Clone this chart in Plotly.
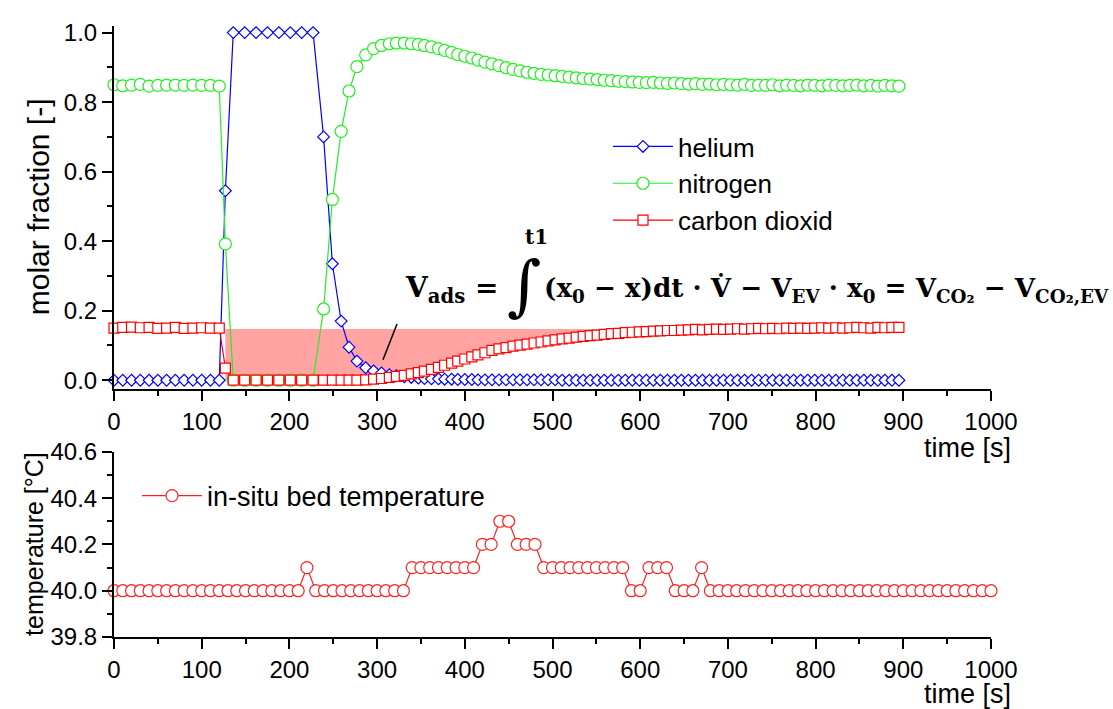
import plotly.graph_objects as go

# ---------------- data ----------------
time_gas = [0, 10, 20, 30, 40, 50, 60, 70, 80, 90, 100, 110, 120,
            127,
            136, 149, 162, 175, 188, 201, 214, 227,
            239, 249, 259, 268, 277, 287, 296, 305, 314, 322, 331, 339, 347, 354, 362, 370,
            377, 385, 392, 400, 408, 415, 423,
            431, 439, 447, 455, 463, 471, 479, 487, 495, 503,
            511, 519, 527, 535, 543, 551, 559, 567, 575, 583,
            591, 599, 607, 615, 623, 631, 639, 647, 655, 663,
            671, 679, 687, 695, 703, 711, 719, 727, 735, 743,
            751, 759, 767, 775, 783, 791, 799, 807, 815, 823,
            831, 839, 847, 855, 863, 871, 879, 887, 895]

helium = [0, 0, 0, 0, 0, 0, 0, 0, 0, 0, 0, 0, 0,
          0.545,
          1, 1, 1, 1, 1, 1, 1, 1,
          0.700, 0.335, 0.170, 0.095, 0.055, 0.036, 0.027, 0.021, 0.016, 0.013, 0.010, 0.008,
          0.006, 0.005, 0.004, 0.004, 0.003, 0.003, 0.002, 0.002, 0.002, 0.001, 0.001,
          0.001, 0.001, 0.001, 0.001, 0.001, 0.001, 0.001, 0.001, 0.001, 0.001,
          0, 0, 0, 0, 0, 0, 0, 0, 0, 0,
          0, 0, 0, 0, 0, 0, 0, 0, 0, 0,
          0, 0, 0, 0, 0, 0, 0, 0, 0, 0,
          0, 0, 0, 0, 0, 0, 0, 0, 0, 0,
          0, 0, 0, 0, 0, 0, 0, 0, 0]

nitrogen = [0.850, 0.847, 0.849, 0.851, 0.846, 0.848, 0.849, 0.849, 0.848, 0.849, 0.848, 0.848, 0.846,
            0.392,
            0, 0, 0, 0, 0, 0, 0, 0,
            0.205, 0.520, 0.716, 0.832, 0.902, 0.936, 0.954, 0.963, 0.968, 0.970, 0.970, 0.968,
            0.966, 0.963, 0.959, 0.954, 0.949, 0.943, 0.937, 0.932, 0.927, 0.921, 0.915,
            0.910, 0.905, 0.899, 0.894, 0.890, 0.886, 0.883, 0.880, 0.878, 0.876,
            0.874, 0.872, 0.870, 0.868, 0.866, 0.865, 0.863, 0.862, 0.860, 0.859,
            0.858, 0.857, 0.856, 0.857, 0.855, 0.854, 0.855, 0.853, 0.852, 0.853,
            0.851, 0.852, 0.850, 0.851, 0.850, 0.849, 0.851, 0.848, 0.849, 0.848,
            0.850, 0.847, 0.849, 0.848, 0.847, 0.849, 0.848, 0.847, 0.849, 0.848,
            0.847, 0.848, 0.849, 0.847, 0.848, 0.846, 0.848, 0.847, 0.846]

carbon_dioxide = [0.150, 0.152, 0.153, 0.151, 0.152, 0.149, 0.150, 0.152, 0.149, 0.150, 0.151, 0.150, 0.150,
                  0.035,
                  0, 0, 0, 0, 0, 0, 0, 0,
                  0, 0, 0, 0, 0, 0.001, 0.003, 0.005, 0.008, 0.011, 0.014, 0.018,
                  0.022, 0.026, 0.031, 0.037, 0.043, 0.049, 0.055, 0.061, 0.067, 0.073, 0.079,
                  0.086, 0.090, 0.094, 0.098, 0.101, 0.104, 0.107, 0.110, 0.113, 0.116,
                  0.119, 0.121, 0.124, 0.126, 0.128, 0.130, 0.132, 0.134, 0.135, 0.137,
                  0.138, 0.139, 0.140, 0.141, 0.142, 0.143, 0.143, 0.144, 0.145, 0.146,
                  0.145, 0.146, 0.147, 0.146, 0.147, 0.148, 0.147, 0.148, 0.149, 0.148,
                  0.149, 0.148, 0.150, 0.149, 0.150, 0.149, 0.150, 0.151, 0.150, 0.151,
                  0.150, 0.151, 0.152, 0.151, 0.150, 0.152, 0.151, 0.152, 0.152]

time_temp = [0, 10, 20, 30, 40, 50, 60, 70, 80, 90, 100, 110, 120, 130, 140, 150, 160, 170, 180, 190,
             200, 210, 220, 230, 240, 250, 260, 270, 280, 290, 300, 310, 320, 330, 340, 350, 360, 370,
             380, 390, 400, 410, 420, 430, 440, 450, 460, 470, 480, 490, 500, 510, 520, 530, 540, 550,
             560, 570, 580, 590, 600, 610, 620, 630, 640, 650, 660, 670, 680, 690, 700, 710, 720, 730,
             740, 750, 760, 770, 780, 790, 800, 810, 820, 830, 840, 850, 860, 870, 880, 890, 900, 910,
             920, 930, 940, 950, 960, 970, 980, 990, 1000, 1010]

bed_temperature = [40.0, 40.0, 40.0, 40.0, 40.0, 40.0, 40.0, 40.0, 40.0, 40.0, 40.0, 40.0, 40.0, 40.0,
                   40.0, 40.0, 40.0, 40.0, 40.0, 40.0, 40.0, 40.0,
                   40.1,
                   40.0, 40.0, 40.0, 40.0, 40.0, 40.0, 40.0, 40.0, 40.0, 40.0, 40.0,
                   40.1, 40.1, 40.1, 40.1, 40.1, 40.1, 40.1, 40.1,
                   40.2, 40.2,
                   40.3, 40.3,
                   40.2, 40.2, 40.2,
                   40.1, 40.1, 40.1, 40.1, 40.1, 40.1, 40.1, 40.1, 40.1, 40.1,
                   40.0, 40.0,
                   40.1, 40.1, 40.1,
                   40.0, 40.0, 40.0,
                   40.1,
                   40.0, 40.0, 40.0, 40.0, 40.0, 40.0, 40.0, 40.0, 40.0, 40.0, 40.0, 40.0, 40.0, 40.0,
                   40.0, 40.0, 40.0, 40.0, 40.0, 40.0, 40.0, 40.0, 40.0, 40.0, 40.0, 40.0, 40.0, 40.0,
                   40.0, 40.0, 40.0, 40.0, 40.0, 40.0]

fill_level = 0.147          # upper edge of the shaded adsorption area
fill_start_index = 13       # CO2 break-through drop

x_ticks = [0, 100, 200, 300, 400, 500, 600, 700, 800, 900, 1000]

# ---------------- figure ----------------
W, H = 1113, 709
ML, MR, MT, MB = 114, 122, 20, 72
PW, PH = W - ML - MR, H - MT - MB


def px_x(px):
    return (px - ML) / PW


def px_y(py):
    return (H - MB - py) / PH


FONT = "Liberation Sans"
fig = go.Figure()

# shaded area between fill_level and CO2 curve
fx = time_gas[fill_start_index:]
f_low = [0.0] + [min(v, fill_level) for v in carbon_dioxide[fill_start_index + 1:]]
f_high = [fill_level] * len(fx)
fig.add_trace(go.Scatter(x=fx, y=f_high, mode="lines", line=dict(width=0, color="rgba(0,0,0,0)"),
                         showlegend=False, hoverinfo="skip", xaxis="x", yaxis="y"))
fig.add_trace(go.Scatter(x=fx, y=f_low, mode="lines", line=dict(width=0, color="rgba(0,0,0,0)"),
                         fill="tonexty", fillcolor="rgba(255,0,0,0.36)",
                         showlegend=False, hoverinfo="skip", xaxis="x", yaxis="y"))

fig.add_trace(go.Scatter(x=time_gas, y=helium, name="helium", mode="lines+markers",
                         line=dict(color="#0000FF", width=1.2),
                         marker=dict(symbol="diamond", size=9, color="white",
                                     line=dict(color="#0000FF", width=1.2)),
                         cliponaxis=False, legend="legend", xaxis="x", yaxis="y"))
fig.add_trace(go.Scatter(x=time_gas, y=nitrogen, name="nitrogen", mode="lines+markers",
                         line=dict(color="#22EE22", width=1.2),
                         marker=dict(symbol="circle", size=12, color="white",
                                     line=dict(color="#22EE22", width=1.2)),
                         cliponaxis=False, legend="legend", xaxis="x", yaxis="y"))
fig.add_trace(go.Scatter(x=time_gas, y=carbon_dioxide, name="carbon dioxid", mode="lines+markers",
                         line=dict(color="#FF0000", width=1.2),
                         marker=dict(symbol="square", size=10, color="white",
                                     line=dict(color="#FF0000", width=1.2)),
                         cliponaxis=False, legend="legend", xaxis="x", yaxis="y"))

fig.add_trace(go.Scatter(x=time_temp, y=bed_temperature, name="in-situ bed temperature",
                         mode="lines+markers",
                         line=dict(color="#FF2020", width=1.2),
                         marker=dict(symbol="circle", size=12, color="white",
                                     line=dict(color="#FF2020", width=1.2)),
                         cliponaxis=False, legend="legend2", xaxis="x2", yaxis="y2"))

axis_common = dict(showline=True, linecolor="black", linewidth=2, showgrid=False, zeroline=False,
                   ticks="outside", ticklen=10, tickwidth=2, tickcolor="black",
                   tickfont=dict(family=FONT, size=24, color="black"))

top_dom = [px_y(387), 1.0]
bot_dom = [0.0, px_y(450)]

fig.update_layout(
    width=W, height=H, margin=dict(l=ML, r=MR, t=MT, b=MB),
    paper_bgcolor="white", plot_bgcolor="white",
    font=dict(family=FONT, color="black"),
    xaxis=dict(domain=[0, 1], anchor="y", range=[0, 1000], tickvals=x_ticks,
               minor=dict(dtick=50, ticklen=5, tickwidth=2, tickcolor="black", ticks="outside"),
               **axis_common),
    yaxis=dict(domain=top_dom, anchor="x", range=[-0.0265, 1.019], dtick=0.2, tick0=0,
               tickformat=".1f",
               minor=dict(dtick=0.1, ticklen=5, tickwidth=2, tickcolor="black", ticks="outside"),
               **axis_common),
    xaxis2=dict(domain=[0, 1], anchor="y2", range=[0, 1000], tickvals=x_ticks,
                minor=dict(dtick=50, ticklen=5, tickwidth=2, tickcolor="black", ticks="outside"),
                **axis_common),
    yaxis2=dict(domain=bot_dom, anchor="x2", range=[39.8, 40.6], dtick=0.2, tick0=39.8,
                tickformat=".1f",
                minor=dict(dtick=0.1, ticklen=5, tickwidth=2, tickcolor="black", ticks="outside"),
                **axis_common),
    legend=dict(x=px_x(608), y=px_y(118), xanchor="left", yanchor="top", traceorder="normal",
                font=dict(family=FONT, size=26, color="black"), bgcolor="rgba(0,0,0,0)",
                itemwidth=60, tracegroupgap=0),
    legend2=dict(x=px_x(137), y=px_y(470), xanchor="left", yanchor="top", traceorder="normal",
                 font=dict(family=FONT, size=27, color="black"), bgcolor="rgba(0,0,0,0)",
                 itemwidth=60),
    showlegend=True,
)

# pointer line from formula to shaded area
fig.add_shape(type="line", xref="x", yref="y", x0=322.7, y0=0.1615, x1=306.7, y1=0.059,
              line=dict(color="black", width=1.5))

SERIF = "DejaVu Serif"
ann = []
ann.append(dict(text="molar fraction [-]", x=px_x(38), y=px_y(203), textangle=-90,
                font=dict(family=FONT, size=30)))
ann.append(dict(text="temperature [°C]", x=px_x(34), y=px_y(543), textangle=-90,
                font=dict(family=FONT, size=25)))
ann.append(dict(text="time [s]", x=px_x(1013), y=px_y(446), xanchor="right",
                font=dict(family=FONT, size=27)))
ann.append(dict(text="time [s]", x=px_x(1013), y=px_y(695), xanchor="right",
                font=dict(family=FONT, size=27)))
ann.append(dict(text="<b>V<sub>ads</sub> =</b>", x=px_x(403), y=px_y(286), xanchor="left",
                font=dict(family=SERIF, size=28)))
ann.append(dict(text="∫", x=px_x(524), y=px_y(282),
                font=dict(family=SERIF, size=66)))
ann.append(dict(text="<b>t1</b>", x=px_x(536), y=px_y(233),
                font=dict(family=SERIF, size=20)))
ann.append(dict(text="<b>(x<sub>0</sub> − x)dt · V\u0307 − V<sub>EV</sub> · x<sub>0</sub> = "
                     "V<sub>CO₂</sub> − V<sub>CO₂,EV</sub></b>",
                x=px_x(1111), y=px_y(286), xanchor="right",
                font=dict(family=SERIF, size=26.2)))
for a in ann:
    a.setdefault("xanchor", "center")
    a.update(xref="paper", yref="paper", yanchor="middle", showarrow=False)
    a["font"]["color"] = "black"
fig.update_layout(annotations=ann)

fig.write_html("out.html")
